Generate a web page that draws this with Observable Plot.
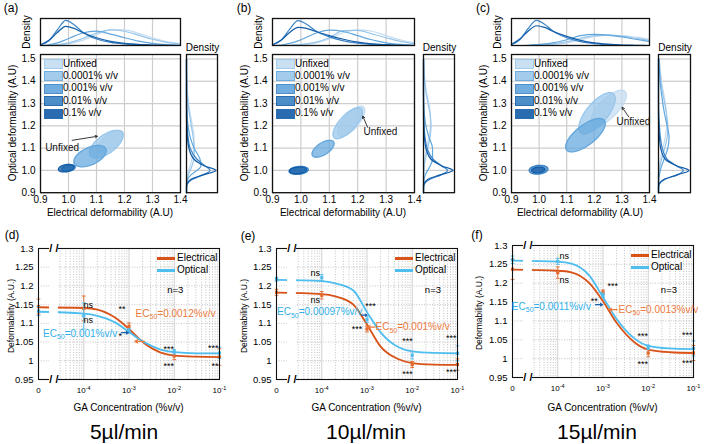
<!DOCTYPE html>
<html><head><meta charset="utf-8">
<script src="https://cdn.jsdelivr.net/npm/d3@7"></script>
<script src="https://cdn.jsdelivr.net/npm/@observablehq/plot@0.6"></script>
<style>
html,body{margin:0;padding:0;background:#fff;}
#root{position:relative;width:704px;height:444px;overflow:hidden;background:#fff;font-family:"Liberation Sans",Arial,Helvetica,sans-serif;color:#000;}
#root svg{position:absolute;overflow:visible;background:transparent;}
</style></head><body><div id="root"></div>
<script>
// ================= DATA =================
const conditions = ["Unfixed","0.0001% v/v","0.001% v/v","0.01% v/v","0.1% v/v"];
const condColors = ["#c4dcf1","#98c6ea","#62a6dc","#3b83c5","#135da8"];
const topXTicks = [0.9,1.0,1.1,1.2,1.3,1.4];
const topYTicks = [0.9,1.0,1.1,1.2,1.3,1.4,1.5];
const panelLettersTop = ["(a)","(b)","(c)"];
const panelLettersBot = ["(d)","(e)","(f)"];
const flowRates = ["5µl/min","10µl/min","15µl/min"];

// ellipses: [centre electrical, centre optical, spread electrical, spread optical, correlation]
const ellipsesA = [[1.150,1.130,0.046,0.050,0.65],[1.135,1.118,0.060,0.062,0.62],[1.077,1.064,0.058,0.048,0.50],[1.000,1.010,0.024,0.015,0.30],[0.992,1.010,0.028,0.017,0.30]];
const ellipsesB = [[1.177,1.220,0.048,0.068,0.72],[1.165,1.212,0.052,0.070,0.72],[1.078,1.097,0.039,0.038,0.60],[0.992,1.000,0.034,0.018,0.20],[0.990,1.000,0.030,0.015,0.20]];
const ellipsesC = [[1.252,1.280,0.064,0.080,0.72],[1.210,1.257,0.066,0.092,0.70],[1.168,1.158,0.072,0.075,0.70],[0.998,1.003,0.034,0.020,0.15],[0.997,1.002,0.024,0.013,0.15]];
// "Unfixed" annotation: text x, text y, arrow x1, y1, x2, y2
const unfixedA = [0.977,1.103,1.013,1.135,1.103,1.153];
const unfixedB = [1.280,1.173,1.235,1.193,1.218,1.243];
const unfixedC = [1.342,1.218,1.325,1.240,1.301,1.283];

// top marginal densities (electrical deformability)
const topDensGrid = [0.9,0.93,0.96,0.99,1.02,1.05,1.1,1.15,1.2,1.25,1.3,1.35,1.4];
const topDensA = [
 [0,0,0.02,0.05,0.11,0.2,0.42,0.6,0.6,0.47,0.3,0.15,0.07],
 [0,0.01,0.03,0.08,0.16,0.27,0.48,0.6,0.55,0.4,0.24,0.12,0.05],
 [0,0.03,0.1,0.22,0.36,0.48,0.55,0.44,0.3,0.17,0.08,0.03,0.01],
 [0.02,0.18,0.6,0.97,0.8,0.52,0.25,0.12,0.06,0.03,0.01,0,0],
 [0.03,0.2,0.5,0.74,0.66,0.5,0.3,0.16,0.08,0.04,0.02,0.01,0]];
const topDensB = [
 [0,0,0,0.02,0.04,0.09,0.25,0.5,0.6,0.55,0.38,0.22,0.1],
 [0,0,0.01,0.03,0.06,0.12,0.3,0.57,0.58,0.45,0.3,0.16,0.07],
 [0,0.02,0.08,0.18,0.32,0.46,0.59,0.54,0.38,0.22,0.1,0.04,0.01],
 [0.02,0.2,0.62,0.96,0.82,0.58,0.33,0.18,0.09,0.04,0.02,0.01,0],
 [0.03,0.2,0.5,0.7,0.66,0.55,0.38,0.24,0.13,0.06,0.03,0.01,0]];
const topDensC = [
 [0,0,0,0.01,0.02,0.04,0.1,0.22,0.34,0.39,0.38,0.32,0.24],
 [0,0,0,0.01,0.03,0.06,0.14,0.28,0.38,0.4,0.36,0.28,0.2],
 [0,0,0.01,0.03,0.06,0.1,0.22,0.38,0.43,0.4,0.33,0.24,0.15],
 [0.03,0.22,0.65,0.97,0.82,0.56,0.3,0.15,0.07,0.03,0.01,0,0],
 [0.05,0.25,0.55,0.76,0.7,0.55,0.35,0.2,0.1,0.05,0.02,0.01,0]];
// right marginal densities (optical deformability)
const rightDensGrid = [0.9,0.93,0.96,0.98,1.0,1.02,1.05,1.1,1.15,1.2,1.25,1.3,1.35,1.4,1.45,1.5];
const rightDensA = [
 [0,0,0.01,0.03,0.07,0.12,0.18,0.24,0.25,0.2,0.13,0.07,0.03,0.01,0,0],
 [0,0,0.02,0.06,0.12,0.18,0.24,0.26,0.22,0.16,0.1,0.05,0.02,0.01,0,0],
 [0,0,0.04,0.15,0.35,0.48,0.45,0.25,0.12,0.05,0.02,0.01,0,0,0,0],
 [0,0.01,0.2,0.55,0.78,0.62,0.35,0.12,0.05,0.02,0.01,0,0,0,0,0],
 [0,0,0.15,0.55,0.98,0.6,0.25,0.08,0.03,0.01,0,0,0,0,0,0]];
const rightDensB = [
 [0,0,0,0,0.01,0.02,0.04,0.1,0.18,0.23,0.23,0.18,0.1,0.05,0.02,0],
 [0,0,0,0.01,0.02,0.03,0.06,0.14,0.22,0.25,0.22,0.15,0.08,0.04,0.02,0],
 [0,0,0.02,0.06,0.14,0.22,0.3,0.3,0.18,0.08,0.03,0.01,0,0,0,0],
 [0,0.01,0.22,0.58,0.8,0.6,0.32,0.12,0.05,0.02,0.01,0,0,0,0,0],
 [0,0,0.15,0.55,0.98,0.62,0.25,0.08,0.03,0.01,0,0,0,0,0,0]];
const rightDensC = [
 [0,0,0,0,0.01,0.03,0.06,0.14,0.22,0.26,0.26,0.22,0.16,0.1,0.06,0.03],
 [0,0,0,0.01,0.03,0.05,0.1,0.2,0.28,0.3,0.26,0.2,0.13,0.08,0.04,0.02],
 [0,0,0.01,0.03,0.06,0.1,0.18,0.3,0.34,0.28,0.2,0.14,0.09,0.05,0.03,0.01],
 [0,0.01,0.22,0.6,0.8,0.58,0.28,0.12,0.06,0.03,0.01,0,0,0,0,0],
 [0,0,0.18,0.6,0.98,0.6,0.22,0.07,0.03,0.01,0,0,0,0,0,0]];

// dose-response panels
const concLevels = [1e-5,1e-4,1e-3,1e-2,1e-1];
const concLabels = ["0","10^-4","10^-3","10^-2","10^-1"];
const botYTicks = [0.95,1.0,1.05,1.1,1.15,1.2,1.25,1.3];
const seriesNames = ["Electrical","Optical"];
const elecD = [1.145,1.140,1.092,1.013,1.010], elecErrD = [0.020,0.033,0.009,0.010,0.022];
const optD  = [1.133,1.120,1.080,1.024,1.021], optErrD  = [0.012,0.035,0.006,0.006,0.015];
const elecE = [1.183,1.175,1.085,0.990,0.990], elecErrE = [0.008,0.010,0.008,0.008,0.015];
const optE  = [1.218,1.222,1.110,1.015,1.020], optErrE  = [0.005,0.008,0.008,0.010,0.020];
const elecF = [1.237,1.228,1.176,1.015,1.015], elecErrF = [0.027,0.015,0.006,0.010,0.020];
const optF  = [1.262,1.258,1.168,1.030,1.027], optErrF  = [0.010,0.008,0.006,0.006,0.020];
const fitConc = [1e-5,1e-4,2e-4,5e-4,1e-3,2e-3,5e-3,1e-2,3e-2,1e-1];
const elecFitD = [1.143,1.141,1.137,1.115,1.085,1.050,1.022,1.014,1.011,1.010];
const optFitD  = [1.131,1.126,1.120,1.102,1.077,1.052,1.030,1.023,1.020,1.020];
const elecFitE = [1.182,1.178,1.172,1.150,1.097,1.038,1.004,0.994,0.990,0.989];
const optFitE  = [1.216,1.213,1.207,1.188,1.130,1.076,1.036,1.025,1.021,1.020];
const elecFitF = [1.236,1.233,1.229,1.200,1.152,1.095,1.043,1.024,1.017,1.015];
const optFitF  = [1.260,1.257,1.252,1.220,1.163,1.105,1.053,1.034,1.027,1.025];
// significance marks: x, y, text
const sigD = [[1.25e-4,1.148,"ns"],[1.25e-4,1.109,"ns"],[7e-4,1.139,"**"],[6.4e-4,1.065,"*"],[7.6e-3,1.032,"***"],[7.6e-3,0.985,"***"],[0.1,1.033,"***"],[0.1,0.987,"**"]];
const sigE = [[7.2e-5,1.234,"ns"],[7.2e-5,1.162,"ns"],[1.2e-3,1.146,"***"],[6e-4,1.084,"***"],[7.9e-3,1.052,"***"],[7.9e-3,0.964,"***"],[0.1,1.06,"***"],[0.1,0.97,"***"]];
const sigF = [[1.4e-4,1.271,"ns"],[1.4e-4,1.209,"ns"],[1.65e-3,1.191,"***"],[6.4e-4,1.152,"**"],[7.6e-3,1.059,"***"],[7.6e-3,0.986,"***"],[0.1,1.062,"***"],[0.1,0.988,"***"]];
// EC50 labels [electrical, optical]
const ec50Text = [["EC50=0.0012%v/v","EC50=0.001%v/v"],["EC50=0.001%v/v","EC50=0.00097%v/v"],["EC50=0.0013%v/v","EC50=0.0011%v/v"]];
// label anchors: elec x, elec y, opt x, opt y
const ec50Pos = [[1.4e-3,1.126,5.5e-4,1.073],[1.54e-3,1.09,7.9e-4,1.13],[2.2e-3,1.13,5.4e-4,1.138]];
// arrows: elec x1, x2, y, opt x1, x2, y
const ec50Arrow = [[2.2e-3,1.35e-3,1.052,6.8e-4,9.7e-4,1.075],[1.5e-3,1.05e-3,1.09,7.6e-4,1.0e-3,1.122],[2.05e-3,1.35e-3,1.13,6.8e-4,9.8e-4,1.143]];
const nLabelPos = [[7e-3,1.188],[1.9e-2,1.19],[1.9e-2,1.182]];
const breakConc = [1.75e-5,2.75e-5];

// ================= LAYOUT / STYLE =================
const FONT = '"Liberation Sans", Arial, Helvetica, sans-serif';
const ORANGE = "#d95319", ORANGE_M = "#e46a2c", BLUE = "#4dbeee", BLUE_M = "#52bdec";
const ORANGE_T = "#ee7a3c", BLUE_T = "#2fb0e8", BLUE_A = "#1f63ad";
const root = document.getElementById("root");
const NS = "http://www.w3.org/2000/svg";

function place(node, left, top) {
  node.style.position = "absolute"; node.style.left = left + "px"; node.style.top = top + "px";
  root.appendChild(node); return node;
}
function label(text, cx, cy, o = {}) {
  const d = document.createElement("div");
  d.textContent = text;
  Object.assign(d.style, {position:"absolute", left: cx+"px", top: cy+"px", whiteSpace:"nowrap",
    fontSize:(o.size||10)+"px", lineHeight:"1", color:o.color||"#000", fontFamily:FONT,
    transform:`translate(${o.ax ?? -50}%,-50%)` + (o.rot ? ` rotate(${o.rot}deg)` : "")});
  root.appendChild(d); return d;
}
function richText(svg) {
  svg.querySelectorAll("text").forEach(t => {
    const s = t.textContent;
    let m = s.match(/^10\^(.+)$/);
    if (m) {
      t.textContent = "10";
      const sp = document.createElementNS(NS, "tspan");
      sp.setAttribute("dy", "-3.5"); sp.setAttribute("font-size", "5.5"); sp.textContent = m[1];
      t.appendChild(sp); return;
    }
    m = s.match(/^EC50(.*)$/);
    if (m) {
      t.textContent = "EC";
      const sub = document.createElementNS(NS, "tspan");
      sub.setAttribute("dy", "2.5"); sub.setAttribute("font-size", "7"); sub.textContent = "50";
      const rest = document.createElementNS(NS, "tspan");
      rest.setAttribute("dy", "-2.5"); rest.textContent = m[1];
      t.appendChild(sub); t.appendChild(rest);
    }
  });
}
function ellipseOutline(cx, cy, sx, sy, rho) {
  const s = Math.sqrt(1 - rho * rho);
  return d3.range(72).map(k => { const t = 2 * Math.PI * k / 72;
    return {x: cx + sx * Math.cos(t), y: cy + sy * (rho * Math.cos(t) + s * Math.sin(t))}; });
}
const densRows = (grid, table) => table.flatMap((row, k) => row.map((d, j) => ({v: grid[j], d, cond: conditions[k]})));

const topLayout = [{x0:40,x1:180,r0:186,r1:217,lx:11},{x0:272,x1:414,r0:423,r1:454,lx:244},{x0:511,x1:649,r0:658,r1:690,lx:483}];
const MAIN_TOP = 54.3, MAIN_BOT = 192.5, DEN_TOP = 18, DEN_BOT = 45;
const ellipseSets = [ellipsesA, ellipsesB, ellipsesC];
const unfixedSets = [unfixedA, unfixedB, unfixedC];
const topDensSets = [topDensA, topDensB, topDensC];
const rightDensSets = [rightDensA, rightDensB, rightDensC];
const baseStyle = {fontFamily: FONT, fontSize: "10px", color: "#000", background: "transparent", overflow: "visible"};
const GRID = "#cdcdcd";

topLayout.forEach((L, i) => {
  const w = L.x1 - L.x0, h = MAIN_BOT - MAIN_TOP;
  const ml = 36, mr = 4, mt = 4, mb = 24;
  const u = unfixedSets[i];
  const main = Plot.plot({
    width: ml + w + mr, height: mt + h + mb, marginLeft: ml, marginRight: mr, marginTop: mt, marginBottom: mb,
    x: {domain: [0.9, 1.4], ticks: topXTicks, tickFormat: d3.format(".1f"), tickSize: 0, tickPadding: 3.5, label: null},
    y: {domain: [0.9, 1.52], ticks: topYTicks, tickFormat: d3.format(".1f"), tickSize: 0, tickPadding: 5, label: null},
    style: baseStyle,
    marks: [
      Plot.ruleX(topXTicks, {stroke: GRID, strokeWidth: 1.2}),
      Plot.ruleY(topYTicks, {stroke: GRID, strokeWidth: 1.2}),
      ...ellipseSets[i].map((e, k) => Plot.line(ellipseOutline(...e), {x: "x", y: "y", curve: "linear-closed",
        fill: condColors[k], fillOpacity: 0.72, stroke: condColors[k], strokeWidth: 1.3})),
      Plot.arrow([u], {x1: d => d[2], y1: d => d[3], x2: d => d[4], y2: d => d[5], stroke: "#222", strokeWidth: 0.9, headLength: 4}),
      Plot.text([u], {x: d => d[0], y: d => d[1], text: () => "Unfixed", fontSize: 10, fill: "#111"}),
      Plot.frame({stroke: "#111", strokeWidth: 1.3})
    ]
  });
  place(main, L.x0 - ml, MAIN_TOP - mt);

  const tw = w, th = DEN_BOT - DEN_TOP;
  const top = Plot.plot({
    width: tw + 8, height: th + 8, marginLeft: 4, marginRight: 4, marginTop: 4, marginBottom: 4,
    x: {domain: [0.9, 1.4], axis: null}, y: {domain: [0, 1.04], axis: null},
    color: {domain: conditions, range: condColors},
    style: baseStyle,
    marks: [
      Plot.ruleX(topXTicks.slice(1, -1), {stroke: GRID, strokeWidth: 1.2}),
      Plot.line(densRows(topDensGrid, topDensSets[i]), {x: "v", y: "d", z: "cond", stroke: "cond", strokeWidth: 1.2, curve: "monotone-x"}),
      Plot.frame({stroke: "#111", strokeWidth: 1.3})
    ]
  });
  place(top, L.x0 - 4, DEN_TOP - 4);

  const rw = L.r1 - L.r0;
  const right = Plot.plot({
    width: rw + 8, height: h + 8, marginLeft: 4, marginRight: 4, marginTop: 4, marginBottom: 4,
    x: {domain: [0, 1.03], axis: null}, y: {domain: [0.9, 1.52], axis: null},
    color: {domain: conditions, range: condColors},
    style: baseStyle,
    marks: [
      Plot.ruleY(topYTicks.slice(1), {stroke: GRID, strokeWidth: 1.2}),
      Plot.line(densRows(rightDensGrid, rightDensSets[i]), {x: "d", y: "v", z: "cond", stroke: "cond", strokeWidth: 1.2, curve: "monotone-y"}),
      Plot.frame({stroke: "#111", strokeWidth: 1.3})
    ]
  });
  place(right, L.r0 - 4, MAIN_TOP - 4);

  // text
  label(panelLettersTop[i], L.lx, 8, {size: 12});
  label("Density", L.x0 - 13, (DEN_TOP + DEN_BOT) / 2, {size: 10, rot: -90});
  label("Density", (L.r0 + L.r1) / 2 + 1, 47.5, {size: 10});
  label("Optical deformability (A.U)", L.x0 - 27, 123, {size: 10, rot: -90});
  label("Electrical deformability (A.U)", (L.x0 + L.x1) / 2, 213, {size: 10});
  // legend
  conditions.forEach((c, k) => {
    const y = 63.5 + 12.4 * k;
    const sw = document.createElement("div");
    Object.assign(sw.style, {position: "absolute", left: (L.x0 + 4) + "px", top: (y - 4.5) + "px", width: "17px", height: "8px",
      background: condColors[k], border: "1px solid " + condColors[Math.min(k + 1, 4)], opacity: 0.9});
    root.appendChild(sw);
    label(c, L.x0 + 23, y, {size: 10, ax: 0});
  });
});

// ---------- bottom dose-response panels ----------
const botLayout = [{x0:38,top:248,bot:379,lx:12,ly:235,tx:124,yl:11},{x0:276,top:248,bot:379,lx:248,ly:236,tx:366,yl:244},{x0:512,top:245,bot:377,lx:477,ly:235,tx:597,yl:479}];
const botData = [
  {elec: elecD, elecErr: elecErrD, opt: optD, optErr: optErrD, elecFit: elecFitD, optFit: optFitD, sig: sigD},
  {elec: elecE, elecErr: elecErrE, opt: optE, optErr: optErrE, elecFit: elecFitE, optFit: optFitE, sig: sigE},
  {elec: elecF, elecErr: elecErrF, opt: optF, optErr: optErrF, elecFit: elecFitF, optFit: optFitF, sig: sigF}];
const minorConc = d3.range(-5, -1).flatMap(e => d3.range(2, 10).map(k => k * Math.pow(10, e)));
const cap = {draw(ctx, size) { const r = Math.sqrt(size / Math.PI) * 1.6; ctx.moveTo(-r, 0); ctx.lineTo(r, 0); }};
const tickLabel = d => concLabels[concLevels.findIndex(c => Math.abs(Math.log10(c) - Math.log10(d)) < 1e-6)];

botLayout.forEach((L, i) => {
  const P = botData[i];
  const w = 181, h = L.bot - L.top;
  const ml = 34, mr = 6, mt = 4, mb = 20;
  const pts = (vals, errs) => concLevels.map((c, j) => ({x: c, y: vals[j], lo: vals[j] - errs[j], hi: vals[j] + errs[j]}));
  const fit = vals => fitConc.map((c, j) => ({x: c, y: vals[j]}));
  const series = [[pts(P.elec, P.elecErr), fit(P.elecFit), ORANGE, ORANGE_M], [pts(P.opt, P.optErr), fit(P.optFit), BLUE, BLUE_M]];
  const ecp = ec50Pos[i], eca = ec50Arrow[i];
  const sigMid = P.sig.filter(s => s[0] < 0.09), sigEnd = P.sig.filter(s => s[0] >= 0.09);
  const svg = Plot.plot({
    width: ml + w + mr, height: mt + h + mb, marginLeft: ml, marginRight: mr, marginTop: mt, marginBottom: mb,
    x: {type: "log", domain: [1e-5, 1e-1]},
    y: {domain: [0.95, 1.3]},
    style: {...baseStyle, fontSize: "9px"},
    marks: [
      Plot.ruleY(botYTicks.slice(1, -1), {stroke: "#b4b4b4", strokeDasharray: "1,1.6", strokeWidth: 0.8}),
      Plot.ruleX(minorConc, {stroke: "#b4b4b4", strokeDasharray: "1,1.6", strokeWidth: 0.8}),
      Plot.ruleX(concLevels.slice(1, -1), {stroke: "#d0d0d0", strokeWidth: 1}),
      ...series.flatMap(([p, f, c, cm]) => [
        Plot.line(f, {x: "x", y: "y", stroke: c, strokeWidth: 1.8, curve: "monotone-x"}),
        Plot.ruleX(p, {x: "x", y1: "lo", y2: "hi", stroke: cm, strokeWidth: 0.9}),
        Plot.dot(p, {x: "x", y: "lo", symbol: cap, r: 1.2, stroke: cm, fill: "none", strokeWidth: 0.9}),
        Plot.dot(p, {x: "x", y: "hi", symbol: cap, r: 1.2, stroke: cm, fill: "none", strokeWidth: 0.9}),
        Plot.dot(p, {x: "x", y: "y", symbol: "square", r: 1.8, fill: cm})
      ]),
      Plot.frame({stroke: "#111", strokeWidth: 1.1}),
      Plot.rect([breakConc], {x1: d => d[0], x2: d => d[1], y1: 0.95, y2: 1.3, fill: "white", insetTop: -2, insetBottom: -2}),
      Plot.text([0.95, 1.3], {x: Math.sqrt(breakConc[0] * breakConc[1]), y: d => d, text: () => "/ /", fontSize: 11, fontWeight: "bold"}),
      Plot.axisX({ticks: concLevels, tickFormat: tickLabel, tickSize: 0, tickPadding: 8, fontSize: 8, label: null}),
      Plot.axisY({ticks: botYTicks, tickFormat: d => String(+d.toFixed(2)), tickSize: 0, tickPadding: 5, fontSize: 9.5, label: null}),
      Plot.text(sigMid, {x: d => d[0], y: d => d[1], text: d => d[2], fontSize: 9}),
      Plot.text(sigEnd, {x: d => d[0], y: d => d[1], text: d => d[2], fontSize: 9, textAnchor: "end", dx: -1}),
      Plot.arrow([eca], {x1: d => d[0], x2: d => d[1], y1: d => d[2], y2: d => d[2], stroke: ORANGE_T, strokeWidth: 1.3, headLength: 5}),
      Plot.arrow([eca], {x1: d => d[3], x2: d => d[4], y1: d => d[5], y2: d => d[5], stroke: BLUE_A, strokeWidth: 1.3, headLength: 5}),
      Plot.text([ecp], {x: d => d[0], y: d => d[1], text: () => ec50Text[i][0], fill: ORANGE_T, fontSize: 10, textAnchor: "start"}),
      Plot.text([ecp], {x: d => d[2], y: d => d[3], text: () => ec50Text[i][1], fill: BLUE_T, fontSize: 10, textAnchor: "end"}),
      Plot.text([nLabelPos[i]], {x: d => d[0], y: d => d[1], text: () => "n=3", fontSize: 9.5, textAnchor: "start"})
    ]
  });
  richText(svg);
  place(svg, L.x0 - ml, L.top - mt);

  label(panelLettersBot[i], L.lx, L.ly, {size: 12});
  label("Deformability (A.U.)", L.yl, (L.top + L.bot) / 2 + 2, {size: 8.5, rot: -90});
  label("GA Concentration (%v/v)", L.x0 + w / 2, 408, {size: 10});
  label(flowRates[i], L.tx, 431, {size: 21});
  // legend
  [[ORANGE, 10], [BLUE, 22]].forEach(([c, dy], k) => {
    const sw = document.createElement("div");
    Object.assign(sw.style, {position: "absolute", left: (L.x0 + 119) + "px", top: (L.top + dy - 1.5) + "px", width: "18px", height: "3px", background: c});
    root.appendChild(sw);
    label(seriesNames[k], L.x0 + 139, L.top + dy, {size: 10, ax: 0});
  });
});
</script></body></html>
